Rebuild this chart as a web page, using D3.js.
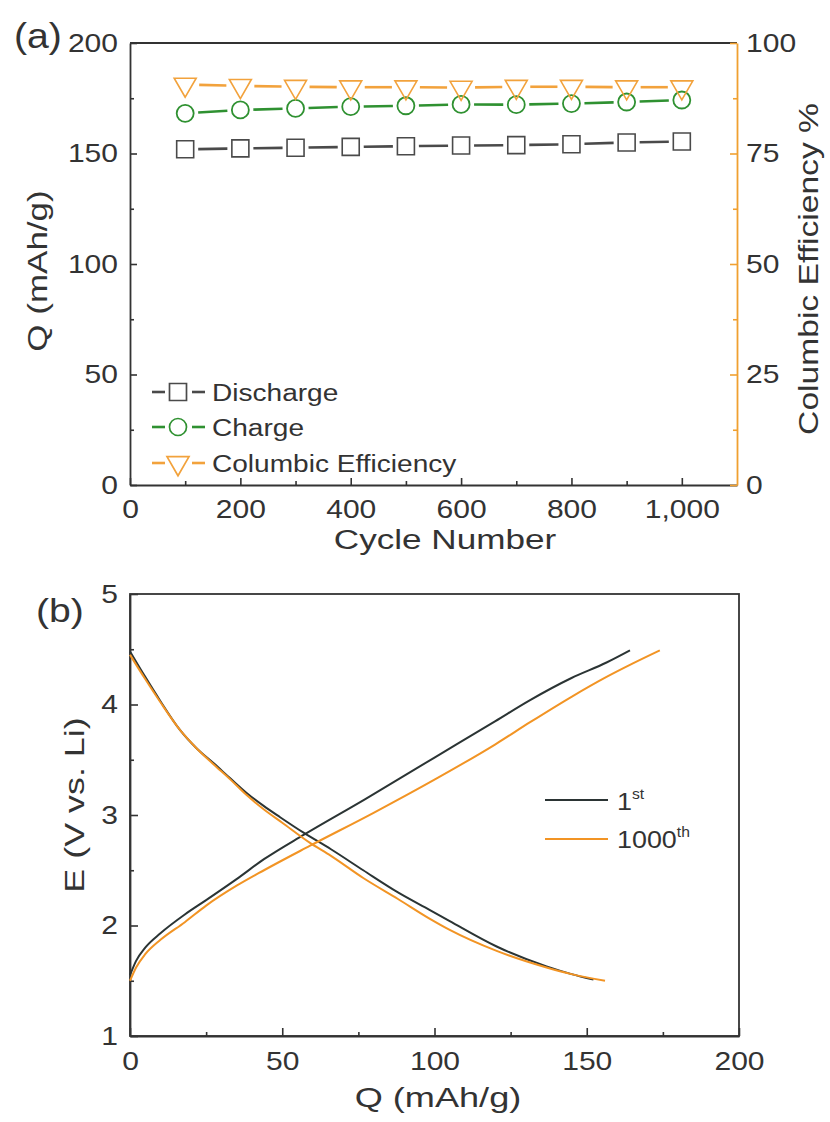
<!DOCTYPE html>
<html><head><meta charset="utf-8">
<script src="https://cdn.jsdelivr.net/npm/d3@7"></script>
<style>
body{margin:0;background:#fff}
text{font-family:"Liberation Sans",Arial,sans-serif;fill:#333}
</style>
</head><body>
<svg id="c" width="830" height="1122"></svg>
<script>
// ---------- Panel (a) data ----------
const cycles = [100,200,300,400,500,600,700,800,900,1000];
const discharge = [151.9,152.3,152.6,153.0,153.3,153.6,153.8,154.2,155.0,155.4];
const charge = [168.2,169.7,170.4,171.2,171.6,172.2,172.1,172.6,173.3,174.2];
const efficiency = [90.6,90.3,90.1,90.0,90.0,89.9,90.1,90.1,90.0,90.0];
const cycleTicks = [0,200,400,600,800,1000];
const cycleMinor = [100,300,500,700,900];
const qTicksA = [0,50,100,150,200];
const qMinorA = [25,75,125,175];
const effTicks = [0,25,50,75,100];
const effMinor = [12.5,37.5,62.5,87.5];
const legendA = ["Discharge","Charge","Columbic Efficiency"];

// ---------- Panel (b) data ----------
const charge1Q = [0,2,5,10,18,25,35,44,57,77,100,120,131.4,145,156.5,164.2];
const charge1E = [1.55,1.68,1.8,1.93,2.1,2.23,2.42,2.6,2.82,3.14,3.52,3.85,4.04,4.24,4.38,4.49];
const charge1000Q = [0,2,5,10,18,25,35,44,59,80,100,120,131.4,145,156.5,165,174];
const charge1000E = [1.5,1.62,1.74,1.87,2.03,2.18,2.36,2.5,2.72,3.02,3.32,3.64,3.84,4.07,4.25,4.37,4.49];
const disch1Q = [0,5,10,16.4,22,27.4,33,38.3,44,49.3,57,66,76.6,88,98.5,105,120.4,136.8,145,152.2];
const disch1E = [4.48,4.25,4.03,3.77,3.6,3.47,3.33,3.2,3.08,2.98,2.84,2.69,2.5,2.3,2.14,2.04,1.81,1.63,1.56,1.51];
const disch1000Q = [0,5,10,16.4,22,27.4,33,38.3,44,50,59,66,76.6,88,98.5,105,120.4,136.8,145,156];
const disch1000E = [4.45,4.23,4.02,3.77,3.6,3.46,3.32,3.18,3.05,2.93,2.75,2.63,2.43,2.24,2.06,1.96,1.77,1.62,1.56,1.5];
const qTicksB = [0,50,100,150,200];
const qMinorB = [25,75,125,175];
const eTicks = [1,2,3,4,5];
const eMinor = [1.5,2.5,3.5,4.5];

const AX = "#333";
const GRAY = "#4a4a4a", GREEN = "#2f9131", ORANGE_A = "#f2a23c", ORANGE_AX = "#f0a030";
const DARK = "#2b3434", ORANGE_B = "#f29424";

const svg = d3.select("#c");
const stretchList = [];
function st(sel,k){ sel.each(function(){ stretchList.push([this,k]); }); return sel; }

// ================= Panel (a) =================
const xA = d3.scaleLinear().domain([0,1100]).range([130,737]);
const yA = d3.scaleLinear().domain([0,200]).range([485,43]);
const yR = d3.scaleLinear().domain([0,100]).range([485,43]);

function styleAxis(g,color,w){
  g.select(".domain").attr("stroke",color).attr("stroke-width",w||1.8);
  g.selectAll(".tick line").attr("stroke",color).attr("stroke-width",1.6);
  g.selectAll(".tick text").attr("font-size",25).attr("fill","#333").attr("font-family","Liberation Sans, Arial, sans-serif");
}

// frame top
svg.append("line").attr("x1",130).attr("x2",737).attr("y1",43).attr("y2",43).attr("stroke",AX).attr("stroke-width",1.8);

let g;
g = svg.append("g").attr("transform","translate(0,485)")
  .call(d3.axisBottom(xA).tickValues(cycleMinor).tickSize(-4).tickSizeOuter(0).tickFormat(""));
g.select(".domain").remove(); g.selectAll("line").attr("stroke",AX).attr("stroke-width",1.6);
g = svg.append("g").attr("transform","translate(0,485)")
  .call(d3.axisBottom(xA).tickValues(cycleTicks).tickSize(-7).tickSizeOuter(0).tickPadding(15).tickFormat(d3.format(",")));
styleAxis(g,AX); st(g.selectAll("text"),1.2);

g = svg.append("g").attr("transform","translate(130,0)")
  .call(d3.axisLeft(yA).tickValues(qMinorA).tickSize(-4).tickSizeOuter(0).tickFormat(""));
g.select(".domain").remove(); g.selectAll("line").attr("stroke",AX).attr("stroke-width",1.6);
g = svg.append("g").attr("transform","translate(130,0)")
  .call(d3.axisLeft(yA).tickValues(qTicksA).tickSize(-7).tickSizeOuter(0).tickPadding(12));
styleAxis(g,AX); st(g.selectAll("text"),1.2);

g = svg.append("g").attr("transform","translate(737,0)")
  .call(d3.axisRight(yR).tickValues(effMinor).tickSize(-4).tickSizeOuter(0).tickFormat(""));
g.select(".domain").remove(); g.selectAll("line").attr("stroke",ORANGE_AX).attr("stroke-width",1.6);
g = svg.append("g").attr("transform","translate(737,0)")
  .call(d3.axisRight(yR).tickValues(effTicks).tickSize(-7).tickSizeOuter(0).tickPadding(9));
styleAxis(g,ORANGE_AX); st(g.selectAll("text"),1.2);

// series with gapped connecting lines
function gapped(sel, xs, ys, xsc, ysc, color, gap, width){
  for(let i=0;i<xs.length-1;i++){
    const x1=xsc(xs[i]), y1=ysc(ys[i]), x2=xsc(xs[i+1]), y2=ysc(ys[i+1]);
    const L=Math.hypot(x2-x1,y2-y1), dx=(x2-x1)/L, dy=(y2-y1)/L;
    sel.append("line").attr("x1",x1+dx*gap).attr("y1",y1+dy*gap)
      .attr("x2",x2-dx*gap).attr("y2",y2-dy*gap)
      .attr("stroke",color).attr("stroke-width",width||2.6);
  }
}
const symSq = d3.symbol().type(d3.symbolSquare).size(17*17);
const symCi = d3.symbol().type(d3.symbolCircle).size(Math.PI*8.5*8.5);
const symTri = d3.symbol().type(d3.symbolTriangle).size(22*22*Math.sqrt(3)/4);

const sA = svg.append("g");
gapped(sA, cycles, discharge, xA, yA, GRAY, 13);
gapped(sA, cycles, charge, xA, yA, GREEN, 13);
gapped(sA, cycles, efficiency, xA, yR, ORANGE_A, 14);
sA.selectAll(".sq").data(cycles).enter().append("path")
  .attr("d",symSq).attr("transform",(d,i)=>`translate(${xA(d)},${yA(discharge[i])})`)
  .attr("fill","none").attr("stroke",GRAY).attr("stroke-width",1.6);
sA.selectAll(".ci").data(cycles).enter().append("path")
  .attr("d",symCi).attr("transform",(d,i)=>`translate(${xA(d)},${yA(charge[i])})`)
  .attr("fill","none").attr("stroke",GREEN).attr("stroke-width",1.8);
sA.selectAll(".tr").data(cycles).enter().append("path")
  .attr("d",symTri).attr("transform",(d,i)=>`translate(${xA(d)},${yR(efficiency[i])}) rotate(180)`)
  .attr("fill","none").attr("stroke",ORANGE_A).attr("stroke-width",1.6);

// legend (a)
const legY = [392,427,463];
const legCol = [GRAY,GREEN,ORANGE_A];
const legSym = [symSq,symCi,symTri];
legendA.forEach((name,i)=>{
  const lg = svg.append("g");
  lg.append("line").attr("x1",152).attr("x2",165).attr("y1",legY[i]).attr("y2",legY[i]).attr("stroke",legCol[i]).attr("stroke-width",2.6);
  lg.append("line").attr("x1",192).attr("x2",205).attr("y1",legY[i]).attr("y2",legY[i]).attr("stroke",legCol[i]).attr("stroke-width",2.6);
  lg.append("path").attr("d",legSym[i]).attr("transform",`translate(178,${legY[i]})`+(i===2?" rotate(180)":""))
    .attr("fill","none").attr("stroke",legCol[i]).attr("stroke-width",1.7);
  st(lg.append("text").attr("x",212).attr("y",legY[i]+8.5).attr("font-size",23).text(name),1.22);
});

// titles (a)
st(svg.append("text").attr("x",445).attr("y",549).attr("text-anchor","middle").attr("font-size",27).text("Cycle Number"),1.3);
st(svg.append("text").attr("transform","translate(47,271) rotate(-90)").attr("text-anchor","middle").attr("font-size",28).text("Q (mAh/g)"),1.25);
st(svg.append("text").attr("transform","translate(818,269) rotate(-90)").attr("text-anchor","middle").attr("font-size",28).text("Columbic Efficiency %"),1.2);
st(svg.append("text").attr("x",14).attr("y",48).attr("font-size",35).text("(a)"),1.12);

// ================= Panel (b) =================
const xB = d3.scaleLinear().domain([0,200]).range([130,739]);
const yB = d3.scaleLinear().domain([1,5]).range([1036,594]);

svg.append("rect").attr("x",130).attr("y",594).attr("width",609).attr("height",442)
  .attr("fill","none").attr("stroke",AX).attr("stroke-width",1.8);

g = svg.append("g").attr("transform","translate(0,1036)")
  .call(d3.axisBottom(xB).tickValues(qMinorB).tickSize(-4).tickSizeOuter(0).tickFormat(""));
g.select(".domain").remove(); g.selectAll("line").attr("stroke",AX).attr("stroke-width",1.6);
g = svg.append("g").attr("transform","translate(0,1036)")
  .call(d3.axisBottom(xB).tickValues(qTicksB).tickSize(-8).tickSizeOuter(0).tickPadding(16));
styleAxis(g,AX); st(g.selectAll("text"),1.2);

g = svg.append("g").attr("transform","translate(130,0)")
  .call(d3.axisLeft(yB).tickValues(eMinor).tickSize(-4).tickSizeOuter(0).tickFormat(""));
g.select(".domain").remove(); g.selectAll("line").attr("stroke",AX).attr("stroke-width",1.6);
g = svg.append("g").attr("transform","translate(130,0)")
  .call(d3.axisLeft(yB).tickValues(eTicks).tickSize(-8).tickSizeOuter(0).tickPadding(12).tickFormat(d3.format("d")));
styleAxis(g,AX); st(g.selectAll("text"),1.2);

const lineB = d3.line().x(d=>xB(d[0])).y(d=>yB(d[1])).curve(d3.curveMonotoneX);
const zip = (a,b)=>a.map((v,i)=>[v,b[i]]);
const curves = svg.append("g").attr("fill","none").attr("stroke-width",2);
curves.append("path").attr("d",lineB(zip(disch1Q,disch1E))).attr("stroke",DARK);
curves.append("path").attr("d",lineB(zip(charge1Q,charge1E))).attr("stroke",DARK);
curves.append("path").attr("d",lineB(zip(disch1000Q,disch1000E))).attr("stroke",ORANGE_B);
curves.append("path").attr("d",lineB(zip(charge1000Q,charge1000E))).attr("stroke",ORANGE_B);

// legend (b)
svg.append("line").attr("x1",545).attr("x2",608).attr("y1",800).attr("y2",800).attr("stroke",DARK).attr("stroke-width",2);
svg.append("line").attr("x1",545).attr("x2",608).attr("y1",839).attr("y2",839).attr("stroke",ORANGE_B).attr("stroke-width",2);
let t1 = svg.append("text").attr("x",617).attr("y",810).attr("font-size",24);
t1.append("tspan").text("1");
t1.append("tspan").attr("font-size",14).attr("dy",-11).text("st");
let t2 = svg.append("text").attr("x",617).attr("y",848).attr("font-size",24);
t2.append("tspan").text("1000");
t2.append("tspan").attr("font-size",14).attr("dy",-11).text("th");
st(t1,1.12); st(t2,1.12);

// titles (b)
st(svg.append("text").attr("x",438).attr("y",1107).attr("text-anchor","middle").attr("font-size",28).text("Q (mAh/g)"),1.29);
st(svg.append("text").attr("transform","translate(84,805) rotate(-90)").attr("text-anchor","middle").attr("font-size",28).text("E (V vs. Li)"),1.28);
st(svg.append("text").attr("x",36).attr("y",622).attr("font-size",34).text("(b)"),1.15);

// horizontal stretch of glyphs to match reference typography
stretchList.forEach(([el,k])=>{
  const l = el.getComputedTextLength();
  el.setAttribute("textLength", (l*k).toFixed(1));
  el.setAttribute("lengthAdjust","spacingAndGlyphs");
});
</script>
</body></html>
